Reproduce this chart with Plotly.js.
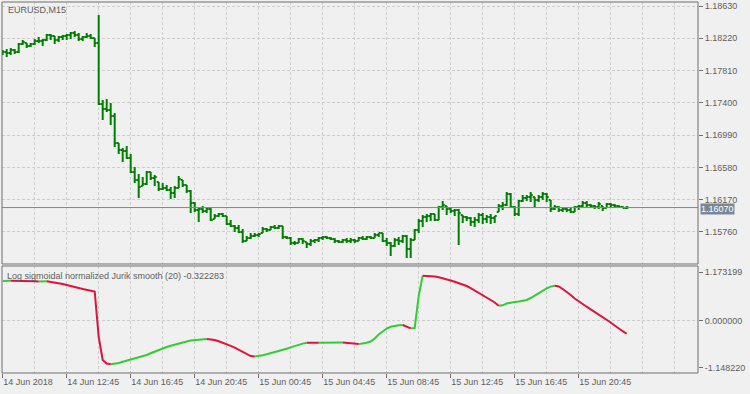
<!DOCTYPE html>
<html>
<head>
<meta charset="utf-8">
<script src="https://cdn.plot.ly/plotly-3.0.1.min.js"></script>
<style>
html,body{margin:0;padding:0;background:#F0F0F0;}
#chart{width:750px;height:394px;}
</style>
</head>
<body>
<div id="chart"></div>
<script>
// ---- data: EURUSD M15, 14 Jun 2018 08:45 .. 15 Jun 2018 23:45 ----
const symbolTitle = "EURUSD,M15";
const indicatorName = "Log sigmoidal normalized Jurik smooth (20)";
const firstBarTime = "2018-06-14 08:45";

const openP = [
1.18020,1.18046,1.18033,1.18071,1.18046,1.18147,1.18160,1.18122,1.18147,1.18185,
1.18185,1.18198,1.18261,1.18249,1.18198,1.18236,1.18249,1.18261,1.18287,1.18261,
1.18211,1.18236,1.18249,1.18223,1.18160,1.17385,1.17322,1.17309,1.17233,1.16890,
1.16801,1.16788,1.16699,1.16522,1.16420,1.16344,1.16369,1.16522,1.16445,1.16395,
1.16306,1.16318,1.16293,1.16255,1.16318,1.16420,1.16357,1.16280,1.16128,1.16039,
1.16052,1.16026,1.16052,1.15925,1.15963,1.15988,1.15963,1.15861,1.15836,1.15810,
1.15760,1.15645,1.15684,1.15709,1.15722,1.15747,1.15798,1.15785,1.15823,1.15810,
1.15836,1.15696,1.15684,1.15620,1.15620,1.15671,1.15633,1.15607,1.15645,1.15658,
1.15684,1.15696,1.15684,1.15671,1.15645,1.15633,1.15658,1.15645,1.15658,1.15645,
1.15684,1.15671,1.15696,1.15684,1.15722,1.15747,1.15645,1.15620,1.15582,1.15658,
1.15645,1.15709,1.15544,1.15658,1.15785,1.15899,1.15950,1.15963,1.15988,1.15912,
1.16077,1.16090,1.16052,1.16026,1.16039,1.15976,1.15950,1.15937,1.15887,1.15912,
1.15976,1.15925,1.15950,1.15937,1.16014,1.16090,1.16103,1.16242,1.16077,1.15988,
1.16153,1.16191,1.16204,1.16204,1.16166,1.16204,1.16242,1.16166,1.16052,1.16077,
1.16039,1.16052,1.16039,1.16014,1.16077,1.16090,1.16128,1.16103,1.16090,1.16077,
1.16090,1.16064,1.16115,1.16103,1.16090,1.16077,1.16064];
const highP = [
1.18071,1.18084,1.18096,1.18084,1.18160,1.18198,1.18160,1.18160,1.18211,1.18236,
1.18211,1.18274,1.18274,1.18249,1.18249,1.18261,1.18274,1.18300,1.18312,1.18287,
1.18249,1.18287,1.18274,1.18223,1.18515,1.17436,1.17449,1.17398,1.17271,1.16890,
1.16826,1.16852,1.16750,1.16585,1.16496,1.16458,1.16534,1.16522,1.16484,1.16395,
1.16382,1.16357,1.16331,1.16344,1.16471,1.16420,1.16357,1.16293,1.16141,1.16064,
1.16090,1.16064,1.16077,1.15988,1.16001,1.16001,1.15963,1.15912,1.15849,1.15849,
1.15798,1.15709,1.15747,1.15747,1.15747,1.15823,1.15810,1.15836,1.15849,1.15849,
1.15836,1.15709,1.15696,1.15645,1.15684,1.15684,1.15633,1.15671,1.15671,1.15696,
1.15709,1.15709,1.15696,1.15684,1.15658,1.15671,1.15684,1.15684,1.15671,1.15696,
1.15709,1.15709,1.15709,1.15747,1.15747,1.15747,1.15684,1.15633,1.15684,1.15696,
1.15722,1.15722,1.15684,1.15798,1.15925,1.15976,1.15988,1.16001,1.15988,1.16090,
1.16153,1.16090,1.16077,1.16052,1.16052,1.15976,1.15963,1.15950,1.15950,1.16001,
1.16001,1.15976,1.15988,1.15963,1.16115,1.16141,1.16268,1.16255,1.16090,1.16166,
1.16230,1.16230,1.16268,1.16204,1.16230,1.16268,1.16255,1.16166,1.16103,1.16090,
1.16077,1.16064,1.16064,1.16090,1.16103,1.16153,1.16153,1.16115,1.16103,1.16141,
1.16090,1.16128,1.16128,1.16115,1.16103,1.16090,1.16090];
const lowP = [
1.18008,1.17982,1.18008,1.18020,1.18033,1.18135,1.18096,1.18109,1.18135,1.18160,
1.18122,1.18185,1.18198,1.18147,1.18173,1.18198,1.18198,1.18211,1.18236,1.18185,
1.18185,1.18223,1.18211,1.18109,1.17372,1.17182,1.17284,1.17119,1.16839,1.16750,
1.16649,1.16687,1.16509,1.16382,1.16191,1.16344,1.16357,1.16420,1.16344,1.16280,
1.16293,1.16280,1.16179,1.16191,1.16318,1.16331,1.16255,1.16001,1.16014,1.15887,
1.16001,1.16001,1.15899,1.15925,1.15950,1.15950,1.15849,1.15823,1.15760,1.15747,
1.15620,1.15645,1.15671,1.15696,1.15696,1.15747,1.15760,1.15785,1.15798,1.15798,
1.15671,1.15671,1.15595,1.15595,1.15620,1.15607,1.15557,1.15582,1.15620,1.15633,
1.15658,1.15671,1.15658,1.15620,1.15620,1.15620,1.15620,1.15620,1.15620,1.15645,
1.15658,1.15658,1.15671,1.15684,1.15696,1.15633,1.15582,1.15455,1.15569,1.15595,
1.15620,1.15430,1.15430,1.15658,1.15747,1.15823,1.15887,1.15899,1.15899,1.15912,
1.16039,1.15976,1.16001,1.15963,1.15595,1.15874,1.15899,1.15836,1.15823,1.15874,
1.15861,1.15874,1.15861,1.15874,1.16014,1.16039,1.16090,1.16064,1.15963,1.15963,
1.16141,1.16153,1.16141,1.16077,1.16141,1.16166,1.16141,1.16014,1.16039,1.16014,
1.16014,1.16014,1.16001,1.16014,1.16039,1.16077,1.16077,1.16064,1.16052,1.16052,
1.16026,1.16064,1.16077,1.16064,1.16064,1.16064,1.16052];
const closeP = [
1.18046,1.18033,1.18071,1.18046,1.18147,1.18173,1.18122,1.18147,1.18185,1.18185,
1.18198,1.18261,1.18249,1.18198,1.18236,1.18249,1.18261,1.18287,1.18261,1.18211,
1.18236,1.18249,1.18223,1.18160,1.17385,1.17322,1.17309,1.17233,1.16890,1.16801,
1.16788,1.16700,1.16522,1.16420,1.16331,1.16369,1.16522,1.16445,1.16458,1.16306,
1.16318,1.16293,1.16255,1.16318,1.16433,1.16357,1.16280,1.16128,1.16039,1.16052,
1.16026,1.16052,1.15912,1.15963,1.15988,1.15963,1.15861,1.15836,1.15810,1.15760,
1.15645,1.15684,1.15709,1.15722,1.15734,1.15798,1.15785,1.15823,1.15810,1.15836,
1.15696,1.15684,1.15620,1.15620,1.15671,1.15645,1.15607,1.15645,1.15658,1.15684,
1.15696,1.15684,1.15671,1.15645,1.15633,1.15658,1.15645,1.15658,1.15645,1.15684,
1.15671,1.15696,1.15684,1.15722,1.15747,1.15645,1.15620,1.15582,1.15658,1.15645,
1.15709,1.15544,1.15658,1.15785,1.15899,1.15950,1.15963,1.15988,1.15912,1.16077,
1.16103,1.16052,1.16026,1.16039,1.16001,1.15950,1.15937,1.15887,1.15912,1.15976,
1.15925,1.15950,1.15937,1.15963,1.16090,1.16103,1.16242,1.16077,1.15988,1.16153,
1.16191,1.16204,1.16230,1.16166,1.16204,1.16242,1.16204,1.16052,1.16077,1.16039,
1.16052,1.16039,1.16014,1.16077,1.16090,1.16128,1.16103,1.16090,1.16077,1.16115,
1.16064,1.16115,1.16103,1.16090,1.16077,1.16064,1.16070];

// indicator values, one per bar
const jurik = [
0.9610,0.9635,0.9659,0.9612,0.9590,0.9571,0.9555,0.9540,0.9528,0.9515,
0.9530,0.9548,0.9391,0.9294,0.9124,0.8880,0.8637,0.8443,0.8199,0.7907,
0.7664,0.7421,0.7250,0.7056,-0.4014,-0.9610,-1.0462,-1.0632,-1.0535,-1.0316,
-1.0048,-0.9781,-0.9562,-0.9318,-0.9075,-0.8807,-0.8394,-0.7956,-0.7542,-0.7129,
-0.6764,-0.6447,-0.6131,-0.5839,-0.5547,-0.5304,-0.5085,-0.4890,-0.4744,-0.4623,
-0.4525,-0.4477,-0.4574,-0.4744,-0.5036,-0.5377,-0.5718,-0.6155,-0.6593,-0.7080,
-0.7615,-0.8151,-0.8637,-0.8734,-0.8637,-0.8443,-0.8224,-0.7980,-0.7713,-0.7445,
-0.7177,-0.6861,-0.6545,-0.6204,-0.5912,-0.5620,-0.5401,-0.5415,-0.5428,-0.5440,
-0.5428,-0.5416,-0.5404,-0.5392,-0.5380,-0.5368,-0.5426,-0.5523,-0.5620,-0.5742,
-0.5620,-0.5401,-0.5109,-0.4379,-0.3406,-0.2555,-0.1946,-0.1533,-0.1314,-0.1168,
-0.1095,-0.1533,-0.1898,-0.1825,0.5961,1.0900,1.0876,1.0803,1.0681,1.0511,
1.0292,1.0024,0.9732,0.9416,0.9075,0.8734,0.8394,0.7859,0.7323,0.6764,
0.6204,0.5596,0.4988,0.4379,0.3577,0.3698,0.4136,0.4379,0.4525,0.4623,
0.4769,0.4988,0.5474,0.6083,0.6812,0.7421,0.7834,0.8248,0.8467,0.8272,
0.7664,0.7007,0.6204,0.5353,0.4623,0.4014,0.3358,0.2725,0.2117,0.1508,
0.0730,0.0122,-0.0487,-0.1217,-0.1995,-0.2603,-0.322283];

const priceTicks = [1.18630,1.18220,1.17810,1.17400,1.16990,1.16580,1.16170,1.15760];
const indTicks = [1.173199, 0, -1.148220];
const indTickText = ["1.173199","0.000000","-1.148220"];
const timeTickVals = ["2018-06-14 08:45","2018-06-14 12:45","2018-06-14 16:45","2018-06-14 20:45",
  "2018-06-15 00:45","2018-06-15 04:45","2018-06-15 08:45","2018-06-15 12:45","2018-06-15 16:45","2018-06-15 20:45"];
const timeTickText = ["14 Jun 2018","14 Jun 12:45","14 Jun 16:45","14 Jun 20:45",
  "15 Jun 00:45","15 Jun 04:45","15 Jun 08:45","15 Jun 12:45","15 Jun 16:45","15 Jun 20:45"];

// ---- build ----
const BAR = 15*60*1000;
const t0 = Date.parse(firstBarTime.replace(" ","T")+":00Z");
const times = openP.map((_, i) => t0 + i*BAR);

const GREEN_BAR = "#008000", UP = "#32CD32", DN = "#DC143C";
const GRID = "#CDCDCD", FRAME = "#6E6E6E", TXT = "#5E5E5E";
const FONT = "Liberation Sans, Arial, sans-serif";

const ohlc = {
  type: "ohlc", x: times, open: openP, high: highP, low: lowP, close: closeP,
  xaxis: "x", yaxis: "y", tickwidth: 0.5,
  increasing: {line: {color: GREEN_BAR, width: 2}},
  decreasing: {line: {color: GREEN_BAR, width: 2}},
  hoverinfo: "skip", showlegend: false
};

// indicator coloured by direction
const gx=[], gy=[], rx=[], ry=[];
let prev = null;
for (let i = 1; i < jurik.length; i++) {
  const up = jurik[i] > jurik[i-1];
  const X = up ? gx : rx, Y = up ? gy : ry;
  if (prev === up) { X.push(times[i]); Y.push(jurik[i]); }
  else {
    if (prev !== null) { const OX = prev ? gx : rx, OY = prev ? gy : ry; OX.push(null); OY.push(null); }
    X.push(times[i-1], times[i]); Y.push(jurik[i-1], jurik[i]);
  }
  prev = up;
}
const indG = {type:"scatter", mode:"lines", x:gx, y:gy, xaxis:"x", yaxis:"y2",
  line:{color:UP, width:2}, connectgaps:false, hoverinfo:"skip", showlegend:false};
const indR = {type:"scatter", mode:"lines", x:rx, y:ry, xaxis:"x", yaxis:"y2",
  line:{color:DN, width:2}, connectgaps:false, hoverinfo:"skip", showlegend:false};

const lastClose = closeP[closeP.length-1];
const lastInd = jurik[jurik.length-1];

const layout = {
  width: 750, height: 394,
  margin: {l: 2, r: 52, t: 2, b: 21, pad: 0},
  paper_bgcolor: "#F0F0F0", plot_bgcolor: "#F0F0F0",
  font: {family: FONT, size: 9, color: TXT},
  showlegend: false,
  xaxis: {
    type: "date", anchor: "y2",
    range: [t0 - 0.175*BAR, t0 + 173.825*BAR],
    rangeslider: {visible: false},
    tickmode: "array", tickvals: timeTickVals, ticktext: timeTickText,
    ticks: "outside", ticklen: 4, tickcolor: FRAME, tickwidth: 1,
    ticklabelposition: "outside right",
    showgrid: true, gridcolor: GRID, griddash: "3px,2px", gridwidth: 1,
    minor: {tick0: firstBarTime, dtick: 2*3600*1000, showgrid: true, gridcolor: GRID, griddash: "3px,2px", ticks: ""},
    showline: false, zeroline: false, fixedrange: true,
    tickfont: {family: FONT, size: 9, color: TXT}
  },
  yaxis: {
    domain: [0.2938, 1], anchor: "x", side: "right",
    range: [1.15353, 1.18681],
    tickmode: "array", tickvals: priceTicks, tickformat: ".5f",
    ticks: "outside", ticklen: 4, tickcolor: FRAME,
    showgrid: true, gridcolor: GRID, griddash: "3px,2px",
    zeroline: false, showline: false, fixedrange: true,
    tickfont: {family: FONT, size: 9, color: TXT}
  },
  yaxis2: {
    domain: [0, 0.2884], anchor: "x", side: "right",
    range: [-1.277, 1.326],
    tickmode: "array", tickvals: indTicks, ticktext: indTickText,
    ticks: "outside", ticklen: 4, tickcolor: FRAME,
    showgrid: false, zeroline: false, showline: false, fixedrange: true,
    tickfont: {family: FONT, size: 9, color: TXT}
  },
  shapes: [
    {type:"line", xref:"paper", x0:0, x1:1, yref:"y2", y0:0, y1:0, line:{color:GRID, width:1, dash:"3px,2px"}, layer:"below"},
    {type:"line", xref:"paper", x0:0, x1:1, yref:"y", y0:lastClose, y1:lastClose, line:{color:"#778899", width:1}},
    {type:"rect", xref:"paper", x0:0, x1:1, yref:"y domain", y0:0, y1:1, line:{color:FRAME, width:1}},
    {type:"rect", xref:"paper", x0:0, x1:1, yref:"y2 domain", y0:0, y1:1, line:{color:FRAME, width:1}}
  ],
  annotations: [
    {text: symbolTitle, xref:"paper", x:0, xanchor:"left", xshift:4, yref:"paper", y:1, yanchor:"top", yshift:-1,
     showarrow:false, font:{family:FONT, size:9, color:TXT}},
    {text: indicatorName + " " + lastInd.toFixed(6), xref:"paper", x:0, xanchor:"left", xshift:3,
     yref:"y2 domain", y:1, yanchor:"top", yshift:-3, showarrow:false, font:{family:FONT, size:9, color:TXT}},
    {text: lastClose.toFixed(5), xref:"paper", x:1, xanchor:"left", xshift:2, yref:"y", y:lastClose, yanchor:"middle",
     yshift:-1, showarrow:false, bgcolor:"#778899", borderpad:0, font:{family:FONT, size:9, color:"#FFFFFF"}}
  ]
};

Plotly.newPlot("chart", [ohlc, indG, indR], layout, {staticPlot: true, displayModeBar: false});
</script>
</body>
</html>
